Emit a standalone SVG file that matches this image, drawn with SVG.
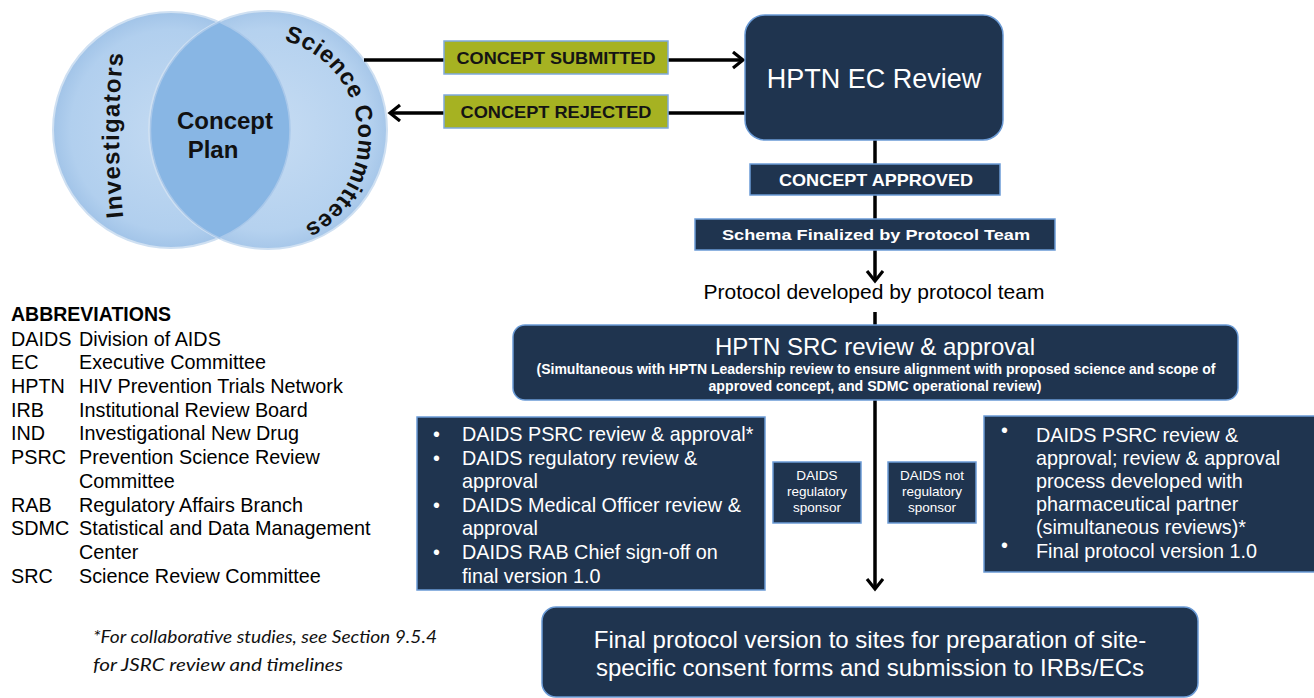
<svg xmlns="http://www.w3.org/2000/svg" width="1314" height="698" viewBox="0 0 1314 698">
<defs>
<style>
.box{fill:#1f344f;stroke:#6b9bd6;stroke-width:1.5}
.olive{fill:#a6b222;stroke:#7fa9dc;stroke-width:1.5}
.w{fill:#ffffff;font-family:"Liberation Sans",Arial,sans-serif}
.k{fill:#000000;font-family:"Liberation Sans",Arial,sans-serif}
.line{stroke:#000;stroke-width:3.5;fill:none}
.circ{font-family:"Liberation Sans",Arial,sans-serif;font-weight:bold;fill:#111}
</style>
<radialGradient id="cg" cx="50%" cy="50%" r="50%">
<stop offset="0" stop-color="#c3daf2"/>
<stop offset="0.85" stop-color="#b1cfee"/>
<stop offset="1" stop-color="#a2c4e8"/>
</radialGradient>
<marker id="ah" markerUnits="userSpaceOnUse" markerWidth="16" markerHeight="20" refX="11" refY="9" orient="auto" viewBox="0 0 16 20">
<path d="M1,1 L11,9 L1,17" fill="none" stroke="#000" stroke-width="3.2"/>
</marker>
<path id="invPath" d="M125,232 A800,800 0 0 1 125,38"/>
<path id="sciPath" d="M283,40.4 A100,100 0 0 1 296,230"/>
</defs>

<g id="venn">
<circle cx="171" cy="130" r="118" fill="url(#cg)" stroke="#cfe0f2" stroke-width="2"/>
<circle cx="268" cy="130" r="119" fill="url(#cg)" stroke="#cfe0f2" stroke-width="2" fill-opacity="0.95"/>
<path d="M219.5,22 A118,118 0 0 1 219.5,238 A119,119 0 0 1 219.5,22 Z" fill="#88b6e4" stroke="#a9c8ea" stroke-width="1.5"/>
<text class="circ" font-size="24" letter-spacing="1.2" text-anchor="middle"><textPath href="#invPath" startOffset="50%">Investigators</textPath></text>
<text class="circ" font-size="23.5" letter-spacing="0.6"><textPath href="#sciPath" startOffset="1">Science Committees</textPath></text>
<text class="circ" font-size="24" text-anchor="middle" x="225" y="129">Concept</text>
<text class="circ" font-size="24" text-anchor="middle" x="213" y="158">Plan</text>
</g>

<g id="connectors">
<line class="line" x1="364" y1="60" x2="743" y2="60" marker-end="url(#ah)"/>
<line class="line" x1="745" y1="113" x2="390" y2="113" marker-end="url(#ah)"/>
<line class="line" x1="875" y1="140" x2="875" y2="165"/>
<line class="line" x1="875" y1="195" x2="875" y2="219"/>
<line class="line" x1="875" y1="250" x2="875" y2="281" marker-end="url(#ah)"/>
<line class="line" x1="875" y1="312" x2="875" y2="325"/>
<line class="line" x1="875" y1="400" x2="875" y2="589" marker-end="url(#ah)"/>
</g>

<g id="concept-submitted">
<rect class="olive" x="444" y="41" width="224" height="33"/>
<text x="556" y="64" text-anchor="middle" font-family="Liberation Sans,Arial,sans-serif" font-weight="bold" font-size="16.5" fill="#141414" textLength="199" lengthAdjust="spacingAndGlyphs">CONCEPT SUBMITTED</text>
</g>
<g id="concept-rejected">
<rect class="olive" x="444" y="95" width="224" height="33"/>
<text x="556" y="118" text-anchor="middle" font-family="Liberation Sans,Arial,sans-serif" font-weight="bold" font-size="16.5" fill="#141414" textLength="191" lengthAdjust="spacingAndGlyphs">CONCEPT REJECTED</text>
</g>

<g id="ec-review">
<rect class="box" x="745" y="15" width="258" height="125" rx="20"/>
<text class="w" x="874" y="88" text-anchor="middle" font-size="27">HPTN EC Review</text>
</g>

<g id="concept-approved">
<rect class="box" x="750" y="164" width="250" height="31"/>
<text class="w" x="876" y="186" text-anchor="middle" font-size="16.5" font-weight="bold" textLength="194" lengthAdjust="spacingAndGlyphs">CONCEPT APPROVED</text>
</g>

<g id="schema">
<rect class="box" x="695" y="219" width="360" height="31"/>
<text class="w" x="876" y="240" text-anchor="middle" font-size="15.5" font-weight="bold" textLength="308" lengthAdjust="spacingAndGlyphs">Schema Finalized by Protocol Team</text>
</g>

<g id="protocol-developed">
<text class="k" x="874" y="299" text-anchor="middle" font-size="21">Protocol developed by protocol team</text>
</g>

<g id="src-review">
<rect class="box" x="513" y="325" width="725" height="75" rx="12"/>
<text class="w" x="875" y="355" text-anchor="middle" font-size="24">HPTN SRC review &amp; approval</text>
<text class="w" x="876" y="374" text-anchor="middle" font-size="14" font-weight="bold" textLength="679" lengthAdjust="spacingAndGlyphs">(Simultaneous with HPTN Leadership review to ensure alignment with proposed science and scope of</text>
<text class="w" x="875" y="391" text-anchor="middle" font-size="14" font-weight="bold" textLength="333" lengthAdjust="spacingAndGlyphs">approved concept, and SDMC operational review)</text>
</g>

<g id="daids-sponsor-box">
<rect class="box" x="417" y="417" width="348" height="173"/>
<g class="w" font-size="19.8">
<text x="433" y="441">•</text><text x="462" y="441">DAIDS PSRC review &amp; approval*</text>
<text x="433" y="465">•</text><text x="462" y="465">DAIDS regulatory review &amp;</text>
<text x="462" y="488">approval</text>
<text x="433" y="512">•</text><text x="462" y="512">DAIDS Medical Officer review &amp;</text>
<text x="462" y="535">approval</text>
<text x="433" y="559">•</text><text x="462" y="559">DAIDS RAB Chief sign-off on</text>
<text x="462" y="583">final version 1.0</text>
</g>
</g>

<g id="daids-regulatory-sponsor">
<rect class="box" x="773" y="462" width="88" height="61"/>
<g class="w" font-size="13.5" text-anchor="middle">
<text x="817" y="480">DAIDS</text>
<text x="817" y="496">regulatory</text>
<text x="817" y="512">sponsor</text>
</g>
</g>

<g id="daids-not-regulatory-sponsor">
<rect class="box" x="888" y="462" width="88" height="61"/>
<g class="w" font-size="13.5" text-anchor="middle">
<text x="932" y="480">DAIDS not</text>
<text x="932" y="496">regulatory</text>
<text x="932" y="512">sponsor</text>
</g>
</g>

<g id="not-sponsor-box">
<rect class="box" x="984" y="416" width="334" height="156"/>
<g class="w" font-size="19.8">
<text x="1001" y="437">•</text><text x="1036" y="442">DAIDS PSRC review &amp;</text>
<text x="1036" y="465">approval; review &amp; approval</text>
<text x="1036" y="488">process developed with</text>
<text x="1036" y="511">pharmaceutical partner</text>
<text x="1036" y="534">(simultaneous reviews)*</text>
<text x="1001" y="552">•</text><text x="1036" y="558">Final protocol version 1.0</text>
</g>
</g>

<g id="final-protocol">
<rect class="box" x="542" y="607" width="656" height="90" rx="14"/>
<text class="w" x="870" y="648" text-anchor="middle" font-size="24">Final protocol version to sites for preparation of site-</text>
<text class="w" x="870" y="676" text-anchor="middle" font-size="24">specific consent forms and submission to IRBs/ECs</text>
</g>

<g id="abbreviations" class="k" font-size="19.8">
<text x="11" y="321" font-weight="bold" font-size="19.5">ABBREVIATIONS</text>
<text x="11" y="346">DAIDS</text><text x="79" y="346">Division of AIDS</text>
<text x="11" y="369">EC</text><text x="79" y="369">Executive Committee</text>
<text x="11" y="393">HPTN</text><text x="79" y="393">HIV Prevention Trials Network</text>
<text x="11" y="417">IRB</text><text x="79" y="417">Institutional Review Board</text>
<text x="11" y="440">IND</text><text x="79" y="440">Investigational New Drug</text>
<text x="11" y="464">PSRC</text><text x="79" y="464">Prevention Science Review</text>
<text x="79" y="488">Committee</text>
<text x="11" y="512">RAB</text><text x="79" y="512">Regulatory Affairs Branch</text>
<text x="11" y="535">SDMC</text><text x="79" y="535">Statistical and Data Management</text>
<text x="79" y="559">Center</text>
<text x="11" y="583">SRC</text><text x="79" y="583">Science Review Committee</text>
</g>

<g id="footnote" font-family="Lato,'Open Sans',sans-serif" font-style="italic" font-size="18" fill="#111">
<text x="93" y="643" textLength="344" lengthAdjust="spacingAndGlyphs">*For collaborative studies, see Section 9.5.4</text>
<text x="93" y="671" textLength="250" lengthAdjust="spacingAndGlyphs">for JSRC review and timelines</text>
</g>
</svg>
